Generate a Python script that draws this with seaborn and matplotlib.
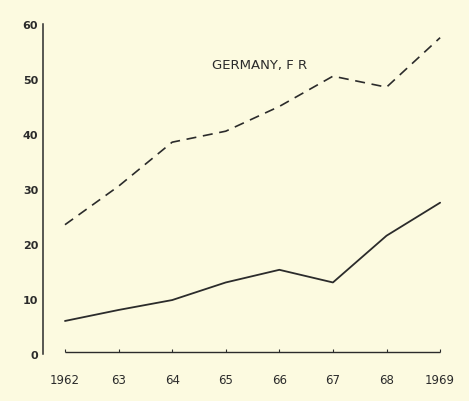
import matplotlib
matplotlib.use("Agg")
import matplotlib.pyplot as plt
import seaborn as sns
import pandas as pd

# values
years = [1962, 1963, 1964, 1965, 1966, 1967, 1968, 1969]
year_labels = ["1962", "63", "64", "65", "66", "67", "68", "1969"]
dashed_vals = [23.5, 30.5, 38.5, 40.5, 45.0, 50.5, 48.5, 57.5]
solid_vals = [6.0, 8.0, 9.8, 13.0, 15.3, 13.0, 21.5, 27.5]
y_ticks = [0, 10, 20, 30, 40, 50, 60]
title = "GERMANY, F R"

bg = "#FCFAE0"
ink = "#2b2b2b"

sns.set_style("white")
plt.rcParams["font.family"] = ["DejaVu Sans"]

df = pd.DataFrame({"year": years, "dashed": dashed_vals, "solid": solid_vals})

fig = plt.figure(figsize=(4.69, 4.02), dpi=100)
fig.patch.set_facecolor(bg)
ax = fig.add_axes([0.0917, 0.117, 0.881, 0.821])
ax.set_facecolor(bg)

sns.lineplot(data=df, x="year", y="dashed", ax=ax, color=ink, linewidth=1.2,
             linestyle=(0, (6, 4)))
sns.lineplot(data=df, x="year", y="solid", ax=ax, color=ink, linewidth=1.3)

# baseline drawn a little above zero with small tick marks, as in the original
ax.hlines(0.3, years[0], years[-1], color=ink, linewidth=1.0)
ax.vlines(years, 0.3, 0.9, color=ink, linewidth=0.8)

ax.set_xlim(1961.59, 1969.3)
ax.set_ylim(0, 60)
ax.set_yticks(y_ticks)
ax.set_yticklabels([str(v) for v in y_ticks], fontsize=8, fontweight="bold", color=ink)
ax.set_xticks(years)
ax.set_xticklabels(year_labels, fontsize=8.5, color=ink)
ax.tick_params(axis="x", length=0, pad=14)
ax.tick_params(axis="y", length=2.5, width=0.8, color=ink, pad=1, direction="out")

for side in ["top", "right", "bottom"]:
    ax.spines[side].set_visible(False)
ax.spines["left"].set_color(ink)
ax.spines["left"].set_linewidth(1.1)

ax.set_xlabel("")
ax.set_ylabel("")
ax.text(1965.64, 52.7, title, ha="center", va="center", fontsize=9.5, color=ink)

fig.savefig("out.png", dpi=100, facecolor=bg)
